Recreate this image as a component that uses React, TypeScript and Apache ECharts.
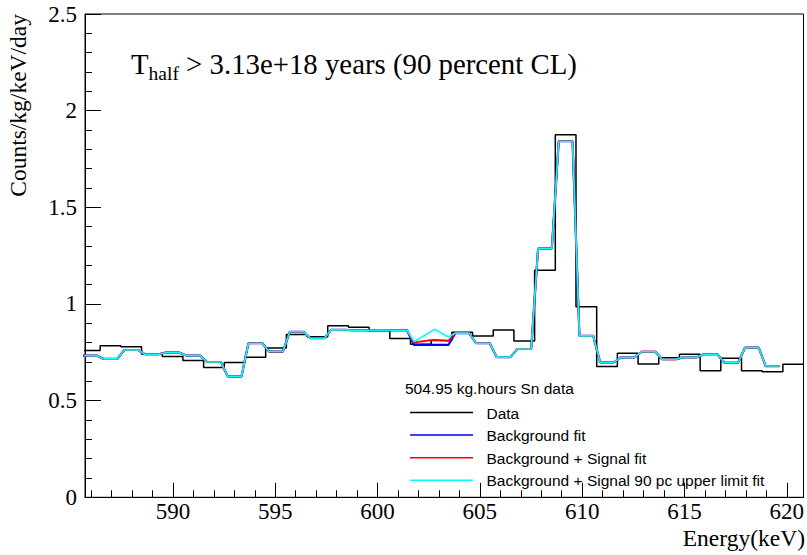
import React, { useEffect, useRef } from "react";
import * as echarts from "echarts";

// Energy axis window and histogram binning (keV)
const X_MIN = 585.7;
const X_MAX = 620.82;
const BIN_START = 585.43;
const BIN_WIDTH = 1.0112;

// Measured spectrum, counts/kg/keV/day per bin
const dataCounts = [
  0.76, 0.784, 0.779, 0.741, 0.728, 0.707, 0.672, 0.697, 0.724, 0.772,
  0.842, 0.83, 0.887, 0.88, 0.862, 0.821, 0.792, 0.811, 0.854, 0.835,
  0.866, 0.808, 1.175, 1.875, 0.986, 0.677, 0.745, 0.69, 0.722, 0.74,
  0.655, 0.719, 0.655, 0.65, 0.688,
];

// Background-only fit, per bin
const bgFit = [
  0.733, 0.716, 0.762, 0.74, 0.748, 0.733, 0.7, 0.626, 0.797, 0.754,
  0.856, 0.823, 0.866, 0.864, 0.862, 0.864, 0.788, 0.788, 0.849, 0.797,
  0.725, 0.767, 1.287, 1.842, 0.835, 0.698, 0.724, 0.753, 0.714, 0.724,
  0.74, 0.696, 0.774, 0.679,
];

// Fits with the signal term: sub-bin values over the two bins around the line
const PEAK_BIN = 16;
const sigFitPeak = [0.8, 0.806, 0.811, 0.814, 0.812, 0.809];
const ulFitPeak = [0.806, 0.826, 0.847, 0.869, 0.85, 0.829];

const xMajorTicks = [590, 595, 600, 605, 610, 615, 620];
const xMinorTicks = [
  586, 587, 588, 589, 591, 592, 593, 594, 596, 597, 598, 599, 601, 602, 603,
  604, 606, 607, 608, 609, 611, 612, 613, 614, 616, 617, 618, 619,
];

const titleMain = "T";
const titleSub = "half";
const titleRest = " > 3.13e+18 years (90 percent CL)";
const xTitle = "Energy(keV)";
const yTitle = "Counts/kg/keV/day";
const legendHeader = "504.95 kg.hours Sn data";
const legendItems = [
  { name: "Data", color: "#000000" },
  { name: "Background fit", color: "#0000ff" },
  { name: "Background + Signal fit", color: "#ff0000" },
  { name: "Background + Signal 90 pc upper limit fit", color: "#00ffff" },
];

const SERIF = '"Liberation Serif", "Times New Roman", Times, serif';
const SANS = '"Liberation Sans", Arial, Helvetica, sans-serif';

// Fit templates are drawn through three points per bin
function fitPoints(values: number[], peak?: number[]): number[][] {
  const pts: number[][] = [];
  values.forEach((v, j) => {
    for (let s = 0; s < 3; s++) {
      const x = BIN_START + (j + (2 * s + 1) / 6) * BIN_WIDTH;
      const k = (j - PEAK_BIN) * 3 + s;
      const y = peak && k >= 0 && k < peak.length ? peak[k] : v;
      pts.push([x, y]);
    }
  });
  return pts;
}

function histPoints(values: number[]): number[][] {
  const pts = values.map((v, j) => [BIN_START + j * BIN_WIDTH, v]);
  pts.push([BIN_START + values.length * BIN_WIDTH, values[values.length - 1]]);
  return pts;
}

function textStyle(text: string, font: string, size: number, align: string) {
  return {
    text,
    fontFamily: font,
    fontSize: size,
    fill: "#000",
    textAlign: align,
    textVerticalAlign: "middle",
    align,
    verticalAlign: "middle",
  };
}

function buildOption(): echarts.EChartsOption {
  const lineBase = {
    type: "line" as const,
    showSymbol: false,
    symbol: "none",
    silent: true,
    clip: true,
  };
  const legendGraphics: any[] = [
    { type: "text", x: 405, y: 388, style: textStyle(legendHeader, SANS, 15.5, "left") },
  ];
  legendItems.forEach((item, i) => {
    const y = 412.5 + i * 22.6;
    legendGraphics.push({
      type: "line",
      shape: { x1: 410, y1: y, x2: 473, y2: y },
      style: { stroke: item.color, lineWidth: 1.5 },
    });
    legendGraphics.push({
      type: "text",
      x: 486.5,
      y: y + 0.5,
      style: textStyle(item.name, SANS, 15.5, "left"),
    });
  });

  return {
    animation: false,
    backgroundColor: "#ffffff",
    grid: {
      left: 85,
      right: 2.4,
      top: 14,
      bottom: 57.7,
      show: true,
      borderColor: "#000",
      borderWidth: 1,
      containLabel: false,
    },
    xAxis: [
      {
        type: "value",
        position: "bottom",
        min: X_MIN,
        max: X_MAX,
        axisLine: { show: true, onZero: false, lineStyle: { color: "#000", width: 1 } },
        axisTick: {
          show: true,
          inside: true,
          length: 14.5,
          customValues: xMajorTicks,
          lineStyle: { color: "#000", width: 1 },
        },
        axisLabel: {
          show: true,
          customValues: xMajorTicks,
          fontFamily: SERIF,
          fontSize: 23,
          color: "#000",
          margin: 3,
        },
        splitLine: { show: false },
      },
      {
        type: "value",
        position: "bottom",
        min: X_MIN,
        max: X_MAX,
        axisLine: { show: false, onZero: false },
        axisTick: {
          show: true,
          inside: true,
          length: 7,
          customValues: xMinorTicks,
          lineStyle: { color: "#000", width: 1 },
        },
        axisLabel: { show: false },
        splitLine: { show: false },
      },
    ],
    yAxis: {
      type: "value",
      min: 0,
      max: 2.5,
      interval: 0.5,
      axisLine: { show: true, onZero: false, lineStyle: { color: "#000", width: 1 } },
      axisTick: { show: true, inside: true, length: 16, lineStyle: { color: "#000", width: 1 } },
      minorTick: { show: true, splitNumber: 5, length: 7, lineStyle: { color: "#000", width: 1 } },
      axisLabel: { fontFamily: SERIF, fontSize: 23, color: "#000", margin: 8 },
      splitLine: { show: false },
      minorSplitLine: { show: false },
    },
    series: [
      {
        ...lineBase,
        name: "Data",
        step: "end",
        data: histPoints(dataCounts),
        lineStyle: { color: "#000", width: 1.5 },
        z: 2,
      },
      {
        ...lineBase,
        name: "Background fit",
        data: fitPoints(bgFit),
        lineStyle: { color: "#0000ff", width: 2.2 },
        z: 3,
      },
      {
        ...lineBase,
        name: "Background + Signal fit",
        data: fitPoints(bgFit, sigFitPeak),
        lineStyle: { color: "#ff0000", width: 1.8 },
        z: 4,
      },
      {
        ...lineBase,
        name: "Background + Signal 90 pc upper limit fit",
        data: fitPoints(bgFit, ulFitPeak),
        lineStyle: { color: "#00ffff", width: 1.6 },
        z: 5,
      },
    ],
    graphic: [
      {
        type: "text",
        x: 131,
        y: 64,
        style: {
          text: `{m|${titleMain}}{s|${titleSub}}{m|${titleRest}}`,
          rich: {
            m: { fontFamily: SERIF, fontSize: 28.8, fill: "#000", color: "#000" },
            s: {
              fontFamily: SERIF,
              fontSize: 19.5,
              fill: "#000",
              color: "#000",
              padding: [18, 0, 0, 0],
            },
          },
          textAlign: "left",
          textVerticalAlign: "middle",
          align: "left",
          verticalAlign: "middle",
        },
      },
      { type: "text", x: 805, y: 538, style: textStyle(xTitle, SERIF, 23.5, "right") },
      {
        type: "text",
        x: 18,
        y: 14,
        rotation: Math.PI / 2,
        style: textStyle(yTitle, SERIF, 23.5, "right"),
      },
      ...legendGraphics,
    ],
  } as echarts.EChartsOption;
}

export default function App() {
  const ref = useRef<HTMLDivElement>(null);
  useEffect(() => {
    if (!ref.current) return;
    const chart = echarts.init(ref.current, null, { renderer: "svg" });
    chart.setOption(buildOption());
    return () => chart.dispose();
  }, []);
  return (
    <div
      ref={ref}
      style={{ position: "fixed", left: 0, top: 0, width: 807, height: 555, background: "#fff" }}
    />
  );
}
